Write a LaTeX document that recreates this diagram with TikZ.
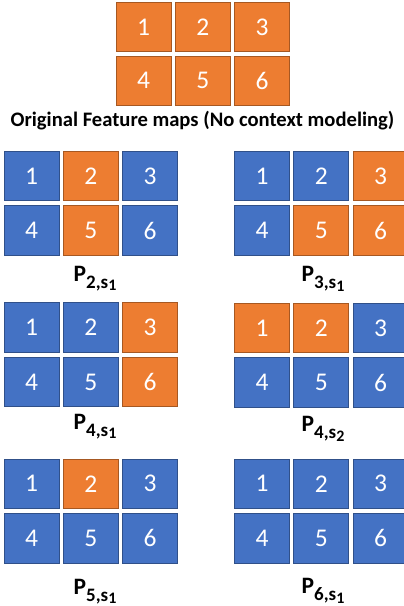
\documentclass[tikz,border=0pt]{standalone}
\usepackage{fontspec}
\setmainfont{Carlito}
\usepackage{tikz}
\usetikzlibrary{positioning}
\definecolor{mapblue}{HTML}{4472C4}
\definecolor{maporange}{HTML}{ED7D31}
\newcommand{\mapname}[2]{P\raisebox{-7pt}{\fontsize{19}{19}\selectfont #1,s\raisebox{-2.5pt}{\fontsize{16}{16}\selectfont #2}}}

\begin{document}
\begin{tikzpicture}[x=1pt, y=-1pt,
    cell/.style={minimum width=55pt, minimum height=49.5pt, inner sep=0pt, line width=0.8pt,
        text=white, font=\fontsize{25.5}{25.5}\selectfont},
    maplabel/.style={anchor=base, font=\bfseries\fontsize{23.5}{23.5}\selectfont}]
    \useasboundingbox (0,0) rectangle (404,606);
    % original feature maps
    \begin{scope}[shift={(116,2.7)}]
    \foreach \n/\c [evaluate=\n as \cx using {27.5+59.3*mod(\n-1,3)},
                    evaluate=\n as \cy using {24.5+53.3*int((\n-1)/3)}]
        in {1/maporange,2/maporange,3/maporange,4/maporange,5/maporange,6/maporange}
        \node[cell, fill=\c, draw=\c!70!black, minimum height=49pt] (o\n) at (\cx,\cy) {\n};
    \end{scope}
    \node[anchor=base, font=\bfseries\fontsize{20.6}{20.6}\selectfont] (title) at (202.5,126.7)
        {Original Feature maps (No context modeling)};
    % P_{2,s1}
    \begin{scope}[shift={(4,151.3)}]
    \foreach \n/\c [evaluate=\n as \cx using {27.5+59.3*mod(\n-1,3)},
                    evaluate=\n as \cy using {24.75+54.5*int((\n-1)/3)}]
        in {1/mapblue,2/maporange,3/mapblue,4/mapblue,5/maporange,6/mapblue}
        \node[cell, fill=\c, draw=\c!70!black] (a\n) at (\cx,\cy) {\n};
    \end{scope}
    \node[maplabel] (la) at (95,281) {\mapname{2}{1}};
    % P_{3,s1}
    \begin{scope}[shift={(234.5,151.3)}]
    \foreach \n/\c [evaluate=\n as \cx using {27.5+59.3*mod(\n-1,3)},
                    evaluate=\n as \cy using {24.75+54.5*int((\n-1)/3)}]
        in {1/mapblue,2/mapblue,3/maporange,4/mapblue,5/maporange,6/maporange}
        \node[cell, fill=\c, draw=\c!70!black] (b\n) at (\cx,\cy) {\n};
    \end{scope}
    \node[maplabel] (lb) at (323,281.7) {\mapname{3}{1}};
    % P_{4,s1}
    \begin{scope}[shift={(4,302.7)}]
    \foreach \n/\c [evaluate=\n as \cx using {27.5+59.3*mod(\n-1,3)},
                    evaluate=\n as \cy using {24.75+54.5*int((\n-1)/3)}]
        in {1/mapblue,2/mapblue,3/maporange,4/mapblue,5/mapblue,6/maporange}
        \node[cell, fill=\c, draw=\c!70!black] (c\n) at (\cx,\cy) {\n};
    \end{scope}
    \node[maplabel] (lc) at (95,429) {\mapname{4}{1}};
    % P_{4,s2}
    \begin{scope}[shift={(234.5,303.3)}]
    \foreach \n/\c [evaluate=\n as \cx using {27.5+59.3*mod(\n-1,3)},
                    evaluate=\n as \cy using {24.75+54.5*int((\n-1)/3)}]
        in {1/maporange,2/maporange,3/mapblue,4/mapblue,5/mapblue,6/mapblue}
        \node[cell, fill=\c, draw=\c!70!black] (d\n) at (\cx,\cy) {\n};
    \end{scope}
    \node[maplabel] (ld) at (323,431.7) {\mapname{4}{2}};
    % P_{5,s1}
    \begin{scope}[shift={(4,459)}]
    \foreach \n/\c [evaluate=\n as \cx using {27.5+59.3*mod(\n-1,3)},
                    evaluate=\n as \cy using {24.75+54.5*int((\n-1)/3)}]
        in {1/mapblue,2/maporange,3/mapblue,4/mapblue,5/mapblue,6/mapblue}
        \node[cell, fill=\c, draw=\c!70!black] (e\n) at (\cx,\cy) {\n};
    \end{scope}
    \node[maplabel] (le) at (95,594) {\mapname{5}{1}};
    % P_{6,s1}
    \begin{scope}[shift={(234.5,459)}]
    \foreach \n/\c [evaluate=\n as \cx using {27.5+59.3*mod(\n-1,3)},
                    evaluate=\n as \cy using {24.75+54.5*int((\n-1)/3)}]
        in {1/mapblue,2/mapblue,3/mapblue,4/mapblue,5/mapblue,6/mapblue}
        \node[cell, fill=\c, draw=\c!70!black] (f\n) at (\cx,\cy) {\n};
    \end{scope}
    \node[maplabel] (lf) at (323,593.5) {\mapname{6}{1}};
\end{tikzpicture}
\end{document}
